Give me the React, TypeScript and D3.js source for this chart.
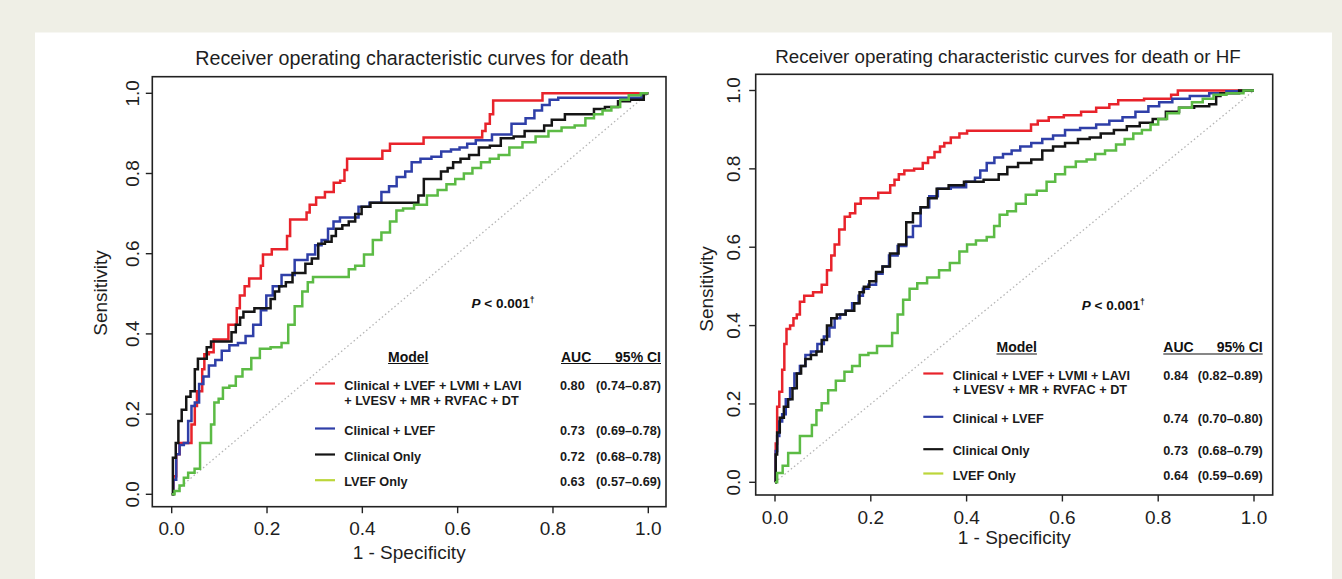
import React, { useEffect, useRef } from "react";
import * as d3 from "d3";

// ROC points [1 - specificity, sensitivity]
const deathFull: [number, number][] = [
  [0, 0], [0.007, 0.045], [0.012, 0.1], [0.021, 0.128], [0.039, 0.128], [0.044, 0.174],
  [0.053, 0.22], [0.053, 0.257], [0.062, 0.257], [0.066, 0.312], [0.071, 0.349], [0.085, 0.354],
  [0.091, 0.386], [0.117, 0.386], [0.121, 0.423], [0.135, 0.423], [0.138, 0.464], [0.148, 0.496],
  [0.158, 0.519], [0.167, 0.538], [0.185, 0.538], [0.189, 0.57], [0.194, 0.598], [0.208, 0.598],
  [0.212, 0.611], [0.24, 0.611], [0.244, 0.644], [0.253, 0.685], [0.281, 0.685], [0.285, 0.703],
  [0.294, 0.722], [0.312, 0.74], [0.331, 0.754], [0.349, 0.777], [0.358, 0.782], [0.367, 0.809],
  [0.369, 0.837], [0.44, 0.837], [0.444, 0.857], [0.472, 0.874], [0.526, 0.874], [0.531, 0.89],
  [0.649, 0.89], [0.654, 0.906], [0.663, 0.924], [0.672, 0.948], [0.677, 0.982], [0.777, 0.982],
  [0.779, 1], [1, 1],
];
const deathClinLvef: [number, number][] = [
  [0, 0], [0.007, 0.036], [0.012, 0.1], [0.021, 0.123], [0.03, 0.128], [0.039, 0.183],
  [0.044, 0.22], [0.053, 0.229], [0.062, 0.275], [0.071, 0.294], [0.085, 0.321], [0.098, 0.335],
  [0.112, 0.358], [0.13, 0.372], [0.148, 0.377], [0.162, 0.395], [0.18, 0.423], [0.194, 0.459],
  [0.203, 0.496], [0.221, 0.519], [0.24, 0.547], [0.276, 0.584], [0.294, 0.598], [0.308, 0.621],
  [0.321, 0.634], [0.335, 0.662], [0.344, 0.68], [0.362, 0.69], [0.385, 0.69], [0.399, 0.717],
  [0.431, 0.727], [0.449, 0.754], [0.463, 0.768], [0.481, 0.791], [0.499, 0.805], [0.508, 0.828],
  [0.536, 0.837], [0.554, 0.842], [0.577, 0.855], [0.595, 0.86], [0.613, 0.865], [0.627, 0.874],
  [0.649, 0.883], [0.695, 0.897], [0.731, 0.924], [0.754, 0.938], [0.768, 0.957], [0.786, 0.971],
  [0.8, 0.984], [0.822, 0.989], [0.977, 0.989], [0.995, 1], [1, 1],
];
const deathClin: [number, number][] = [
  [0, 0], [0.005, 0.091], [0.012, 0.128], [0.016, 0.183], [0.026, 0.211], [0.035, 0.243],
  [0.044, 0.257], [0.053, 0.312], [0.057, 0.338], [0.071, 0.338], [0.076, 0.367], [0.089, 0.381],
  [0.121, 0.381], [0.13, 0.404], [0.139, 0.423], [0.148, 0.441], [0.153, 0.455], [0.171, 0.455],
  [0.176, 0.464], [0.203, 0.464], [0.212, 0.487], [0.221, 0.506], [0.23, 0.519], [0.249, 0.529],
  [0.258, 0.552], [0.276, 0.552], [0.285, 0.575], [0.303, 0.588], [0.312, 0.625], [0.331, 0.63],
  [0.34, 0.644], [0.349, 0.662], [0.367, 0.671], [0.376, 0.68], [0.394, 0.699], [0.403, 0.717],
  [0.431, 0.727], [0.513, 0.727], [0.522, 0.745], [0.536, 0.786], [0.558, 0.786], [0.572, 0.805],
  [0.586, 0.814], [0.595, 0.828], [0.617, 0.837], [0.631, 0.846], [0.658, 0.865], [0.677, 0.869],
  [0.704, 0.888], [0.731, 0.892], [0.75, 0.906], [0.777, 0.906], [0.786, 0.92], [0.809, 0.934],
  [0.841, 0.948], [0.877, 0.948], [0.895, 0.961], [0.923, 0.966], [0.95, 0.98], [0.973, 0.984],
  [0.986, 0.984], [0.995, 1], [1, 1],
];
const deathLvef: [number, number][] = [
  [0, 0], [0.012, 0.008], [0.021, 0.022], [0.03, 0.041], [0.039, 0.054], [0.057, 0.064],
  [0.062, 0.128], [0.08, 0.128], [0.085, 0.174], [0.094, 0.229], [0.103, 0.238], [0.112, 0.266],
  [0.13, 0.271], [0.139, 0.294], [0.158, 0.312], [0.176, 0.34], [0.194, 0.363], [0.221, 0.367],
  [0.24, 0.377], [0.249, 0.423], [0.267, 0.469], [0.281, 0.506], [0.29, 0.529], [0.303, 0.542],
  [0.367, 0.542], [0.376, 0.561], [0.394, 0.57], [0.413, 0.598], [0.431, 0.634], [0.449, 0.653],
  [0.467, 0.68], [0.476, 0.708], [0.495, 0.713], [0.522, 0.722], [0.549, 0.745], [0.567, 0.759],
  [0.586, 0.773], [0.604, 0.786], [0.622, 0.8], [0.64, 0.814], [0.658, 0.828], [0.677, 0.837],
  [0.695, 0.846], [0.722, 0.865], [0.75, 0.878], [0.777, 0.892], [0.804, 0.906], [0.832, 0.915],
  [0.859, 0.92], [0.877, 0.938], [0.895, 0.948], [0.913, 0.957], [0.932, 0.966], [0.95, 0.984],
  [0.968, 0.995], [1, 1],
];

const hfFull: [number, number][] = [
  [0, 0], [0.003, 0.099], [0.006, 0.193], [0.012, 0.231], [0.018, 0.287], [0.021, 0.353],
  [0.027, 0.391], [0.036, 0.4], [0.041, 0.419], [0.05, 0.428], [0.054, 0.461], [0.068, 0.476],
  [0.091, 0.485], [0.104, 0.504], [0.113, 0.541], [0.122, 0.579], [0.127, 0.607], [0.141, 0.645],
  [0.15, 0.678], [0.163, 0.687], [0.172, 0.711], [0.186, 0.725], [0.213, 0.725], [0.218, 0.739],
  [0.236, 0.739], [0.245, 0.758], [0.254, 0.772], [0.263, 0.786], [0.277, 0.796], [0.304, 0.8],
  [0.313, 0.815], [0.326, 0.829], [0.34, 0.843], [0.349, 0.857], [0.358, 0.866], [0.376, 0.88],
  [0.394, 0.89], [0.408, 0.897], [0.53, 0.897], [0.539, 0.913], [0.558, 0.923], [0.585, 0.932],
  [0.621, 0.937], [0.657, 0.946], [0.684, 0.956], [0.712, 0.965], [0.721, 0.975], [0.82, 0.979],
  [0.834, 0.989], [0.848, 1], [1, 1],
];
const hfClinLvef: [number, number][] = [
  [0, 0], [0.003, 0.08], [0.006, 0.118], [0.012, 0.155], [0.018, 0.174], [0.027, 0.212],
  [0.036, 0.24], [0.045, 0.278], [0.059, 0.297], [0.068, 0.325], [0.082, 0.334], [0.095, 0.353],
  [0.109, 0.372], [0.118, 0.395], [0.131, 0.419], [0.141, 0.428], [0.154, 0.438], [0.168, 0.457],
  [0.181, 0.476], [0.186, 0.494], [0.204, 0.504], [0.218, 0.532], [0.231, 0.551], [0.245, 0.579],
  [0.267, 0.603], [0.281, 0.626], [0.295, 0.654], [0.313, 0.702], [0.331, 0.73], [0.349, 0.749],
  [0.385, 0.753], [0.413, 0.767], [0.422, 0.777], [0.435, 0.796], [0.449, 0.815], [0.467, 0.829],
  [0.485, 0.838], [0.503, 0.847], [0.521, 0.857], [0.549, 0.866], [0.567, 0.876], [0.594, 0.885],
  [0.617, 0.899], [0.657, 0.904], [0.684, 0.913], [0.712, 0.923], [0.739, 0.932], [0.766, 0.946],
  [0.793, 0.96], [0.811, 0.97], [0.848, 0.979], [0.884, 0.986], [0.929, 0.993], [0.956, 0.998],
  [1, 1],
];
const hfClin: [number, number][] = [
  [0, 0], [0.003, 0.071], [0.006, 0.127], [0.014, 0.165], [0.023, 0.193], [0.032, 0.212],
  [0.041, 0.24], [0.05, 0.278], [0.059, 0.297], [0.068, 0.315], [0.082, 0.325], [0.091, 0.334],
  [0.104, 0.363], [0.113, 0.4], [0.122, 0.419], [0.136, 0.428], [0.159, 0.438], [0.172, 0.457],
  [0.181, 0.485], [0.19, 0.499], [0.204, 0.513], [0.218, 0.537], [0.231, 0.551], [0.249, 0.584],
  [0.267, 0.607], [0.281, 0.664], [0.295, 0.687], [0.313, 0.702], [0.326, 0.725], [0.349, 0.749],
  [0.376, 0.758], [0.413, 0.767], [0.458, 0.772], [0.476, 0.786], [0.494, 0.805], [0.521, 0.815],
  [0.549, 0.824], [0.567, 0.847], [0.594, 0.857], [0.617, 0.866], [0.648, 0.876], [0.666, 0.88],
  [0.694, 0.89], [0.721, 0.899], [0.748, 0.909], [0.775, 0.918], [0.802, 0.927], [0.83, 0.946],
  [0.857, 0.956], [0.893, 0.96], [0.92, 0.965], [0.922, 0.986], [0.938, 0.993], [1, 1],
];
const hfLvef: [number, number][] = [
  [0, 0], [0.009, 0.024], [0.023, 0.042], [0.032, 0.075], [0.05, 0.075], [0.054, 0.118],
  [0.072, 0.118], [0.082, 0.146], [0.091, 0.184], [0.104, 0.202], [0.118, 0.235], [0.136, 0.259],
  [0.154, 0.282], [0.168, 0.297], [0.186, 0.325], [0.204, 0.33], [0.222, 0.348], [0.24, 0.348],
  [0.249, 0.381], [0.263, 0.428], [0.272, 0.466], [0.29, 0.494], [0.304, 0.508], [0.331, 0.523],
  [0.354, 0.541], [0.376, 0.56], [0.394, 0.589], [0.408, 0.607], [0.431, 0.617], [0.453, 0.626],
  [0.462, 0.654], [0.476, 0.683], [0.494, 0.692], [0.512, 0.711], [0.535, 0.734], [0.558, 0.744],
  [0.576, 0.767], [0.594, 0.786], [0.617, 0.805], [0.639, 0.819], [0.662, 0.824], [0.675, 0.838],
  [0.703, 0.847], [0.721, 0.862], [0.739, 0.876], [0.757, 0.89], [0.775, 0.899], [0.793, 0.913],
  [0.807, 0.927], [0.83, 0.942], [0.857, 0.956], [0.884, 0.97], [0.902, 0.979], [0.929, 0.989],
  [0.956, 0.993], [1, 1],
];

const modelNames = [
  ["Clinical + LVEF + LVMI + LAVI", "+ LVESV + MR + RVFAC + DT"],
  ["Clinical + LVEF"],
  ["Clinical Only"],
  ["LVEF Only"],
];
const aucDeath = ["0.80", "0.73", "0.72", "0.63"];
const ciDeath = ["(0.74\u20130.87)", "(0.69\u20130.78)", "(0.68\u20130.78)", "(0.57\u20130.69)"];
const aucHf = ["0.84", "0.74", "0.73", "0.64"];
const ciHf = ["(0.82\u20130.89)", "(0.70\u20130.80)", "(0.68\u20130.79)", "(0.59\u20130.69)"];
const tickValues = [0, 0.2, 0.4, 0.6, 0.8, 1.0];

const curveColors = ["#e8232b", "#2f3fa8", "#151515", "#5cbb45"];
const keyColors = ["#e8232b", "#2f3fa8", "#151515", "#bcd63a"];
const FONT = "'Liberation Sans', Arial, Helvetica, sans-serif";

const panels = [
  {
    title: "Receiver operating characteristic curves for death",
    titleSize: 19.7,
    curves: [deathFull, deathClinLvef, deathClin, deathLvef],
    auc: aucDeath,
    ci: ciDeath,
    box: { x0: 152.3, x1: 666, y0: 76.7, y1: 506.7 },
    xRange: [171.7, 648.3],
    yRange: [494.3, 93.3],
    titleX: 412, titleY: 65,
    pX: 503, pY: 308,
    yTickX: 138.5, xTickY: 535, xTitleY: 559, yTitleX: 107, yTitleY: 293,
    lg: {
      modelX: 408.3, headY: 361.5, aucX: 561, ciEnd: 661,
      lineX0: 315, lineX1: 335, textX: 344.3, valX: 560, ciX: 595,
      rows: [385, 430, 456, 481.7], dy2: 15,
    },
  },
  {
    title: "Receiver operating characteristic curves for death or HF",
    titleSize: 18.8,
    curves: [hfFull, hfClinLvef, hfClin, hfLvef],
    auc: aucHf,
    ci: ciHf,
    box: { x0: 755.7, x1: 1272.7, y0: 74.3, y1: 495 },
    xRange: [775, 1254],
    yRange: [482.3, 90.5],
    titleX: 1008, titleY: 63,
    pX: 1113.3, pY: 310,
    yTickX: 740, xTickY: 523.5, xTitleY: 544, yTitleX: 713, yTitleY: 289,
    lg: {
      modelX: 1016.7, headY: 352, aucX: 1163.3, ciEnd: 1262.7,
      lineX0: 923.3, lineX1: 943.3, textX: 952.7, valX: 1163.3, ciX: 1197.7,
      rows: [375, 418.3, 450.7, 475], dy2: 14.3,
    },
  },
];

export default function App() {
  const svgRef = useRef<SVGSVGElement>(null);

  useEffect(() => {
    const svg = d3.select(svgRef.current);
    svg.selectAll("*").remove();

    // page background and white panel
    svg.append("rect").attr("width", 1342).attr("height", 579).attr("fill", "#efefe6");
    svg.append("rect").attr("x", 35).attr("y", 32.5).attr("width", 1297).attr("height", 547).attr("fill", "#ffffff");

    panels.forEach((p) => {
      const g = svg.append("g");
      const x = d3.scaleLinear().domain([0, 1]).range(p.xRange);
      const y = d3.scaleLinear().domain([0, 1]).range(p.yRange);
      const { x0, x1, y0, y1 } = p.box;

      // title
      g.append("text")
        .attr("x", p.titleX).attr("y", p.titleY)
        .attr("text-anchor", "middle")
        .attr("font-size", p.titleSize).attr("fill", "#1e1e1e")
        .text(p.title);

      // chance line
      g.append("line")
        .attr("x1", x(0)).attr("y1", y(0)).attr("x2", x(1)).attr("y2", y(1))
        .attr("stroke", "#b4b4b4").attr("stroke-width", 1.3)
        .attr("stroke-dasharray", "1.5,2.6");

      // ROC curves
      const line = d3.line<[number, number]>()
        .x((d) => x(d[0]))
        .y((d) => y(d[1]))
        .curve(d3.curveStep);

      p.curves.forEach((c, i) => {
        g.append("path")
          .datum(c)
          .attr("d", line)
          .attr("fill", "none")
          .attr("stroke", curveColors[i])
          .attr("stroke-width", 2.5)
          .attr("stroke-linejoin", "miter");
      });

      // box
      g.append("rect")
        .attr("x", x0).attr("y", y0).attr("width", x1 - x0).attr("height", y1 - y0)
        .attr("fill", "none").attr("stroke", "#222").attr("stroke-width", 1.6);

      // axis ticks
      tickValues.forEach((t) => {
        g.append("line")
          .attr("x1", x(t)).attr("x2", x(t)).attr("y1", y1).attr("y2", y1 + 6.5)
          .attr("stroke", "#222").attr("stroke-width", 1.4);
        g.append("text")
          .attr("x", x(t)).attr("y", p.xTickY)
          .attr("text-anchor", "middle").attr("font-size", 19).attr("fill", "#1e1e1e")
          .text(d3.format(".1f")(t));
        g.append("line")
          .attr("x1", x0 - 6.5).attr("x2", x0).attr("y1", y(t)).attr("y2", y(t))
          .attr("stroke", "#222").attr("stroke-width", 1.4);
        g.append("text")
          .attr("transform", `translate(${p.yTickX},${y(t)}) rotate(-90)`)
          .attr("text-anchor", "middle").attr("font-size", 19).attr("fill", "#1e1e1e")
          .text(d3.format(".1f")(t));
      });

      // axis titles
      g.append("text")
        .attr("x", (x0 + x1) / 2).attr("y", p.xTitleY)
        .attr("text-anchor", "middle").attr("font-size", 19).attr("fill", "#1e1e1e")
        .text("1 - Specificity");
      g.append("text")
        .attr("transform", `translate(${p.yTitleX},${p.yTitleY}) rotate(-90)`)
        .attr("text-anchor", "middle").attr("font-size", 19).attr("fill", "#1e1e1e")
        .text("Sensitivity");

      // P value
      const pt = g.append("text")
        .attr("x", p.pX).attr("y", p.pY)
        .attr("text-anchor", "middle").attr("font-size", 13.5)
        .attr("font-weight", "bold").attr("fill", "#111");
      pt.append("tspan").attr("font-style", "italic").text("P");
      pt.append("tspan").text(" < 0.001");
      pt.append("tspan").attr("font-size", 8.5).attr("dy", -5).text("\u2020");

      // legend
      const lg = p.lg;
      const model = g.append("text")
        .attr("x", lg.modelX).attr("y", lg.headY)
        .attr("text-anchor", "middle").attr("font-size", 14)
        .attr("font-weight", "bold").attr("fill", "#111")
        .text("Model");
      const mw = (model.node() as SVGTextElement).getComputedTextLength();
      g.append("line")
        .attr("x1", lg.modelX - mw / 2).attr("x2", lg.modelX + mw / 2)
        .attr("y1", lg.headY + 2).attr("y2", lg.headY + 2)
        .attr("stroke", "#111").attr("stroke-width", 1.2);

      g.append("text")
        .attr("x", lg.aucX).attr("y", lg.headY)
        .attr("font-size", 14).attr("font-weight", "bold").attr("fill", "#111")
        .text("AUC");
      g.append("text")
        .attr("x", lg.ciEnd).attr("y", lg.headY)
        .attr("text-anchor", "end")
        .attr("font-size", 14).attr("font-weight", "bold").attr("fill", "#111")
        .text("95% CI");
      g.append("line")
        .attr("x1", lg.aucX).attr("x2", lg.ciEnd)
        .attr("y1", lg.headY + 2).attr("y2", lg.headY + 2)
        .attr("stroke", "#111").attr("stroke-width", 1.2);

      modelNames.forEach((names, i) => {
        const cy = lg.rows[i];
        g.append("line")
          .attr("x1", lg.lineX0).attr("x2", lg.lineX1)
          .attr("y1", cy - 1.5).attr("y2", cy - 1.5)
          .attr("stroke", keyColors[i]).attr("stroke-width", 2.2);
        names.forEach((n, j) => {
          g.append("text")
            .attr("x", lg.textX).attr("y", cy + 4.5 + j * lg.dy2)
            .attr("font-size", 12.7).attr("font-weight", "bold").attr("fill", "#1a1a1a")
            .text(n);
        });
        g.append("text")
          .attr("x", lg.valX).attr("y", cy + 4.5)
          .attr("font-size", 12.7).attr("font-weight", "bold").attr("fill", "#1a1a1a")
          .text(p.auc[i]);
        g.append("text")
          .attr("x", lg.ciEnd).attr("y", cy + 4.5)
          .attr("text-anchor", "end")
          .attr("font-size", 12.7).attr("font-weight", "bold").attr("fill", "#1a1a1a")
          .text(p.ci[i]);
      });
    });
  }, []);

  return (
    <svg
      ref={svgRef}
      width={1342}
      height={579}
      style={{ position: "absolute", left: 0, top: 0, fontFamily: FONT }}
    />
  );
}
